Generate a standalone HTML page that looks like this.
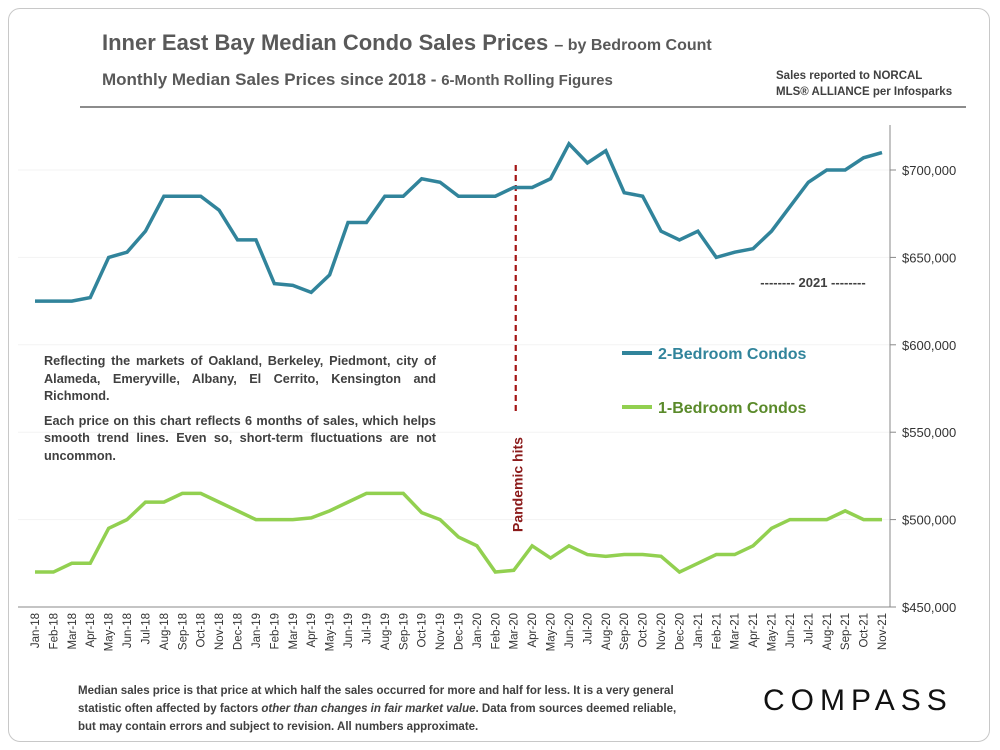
<!DOCTYPE html>
<html><head><meta charset="utf-8"><style>
body{margin:0;width:1000px;height:750px;background:#fff;font-family:"Liberation Sans",sans-serif;overflow:hidden}
.t{position:absolute;color:#595959;font-weight:bold}
</style></head><body>
<div style="position:absolute;left:8px;top:8px;width:980px;height:732px;border:1.5px solid #c8c8c8;border-radius:12px"></div>
<div class="t" style="left:102px;top:30px;font-size:22px">Inner East Bay Median Condo Sales Prices <span style="font-size:16px">– by Bedroom Count</span></div>
<div class="t" style="left:102px;top:70px;font-size:17px">Monthly Median Sales Prices since 2018 - <span style="font-size:15px">6-Month Rolling Figures</span></div>
<div class="t" style="left:776px;top:68px;font-size:11.5px;line-height:16px;color:#404040">Sales reported to NORCAL<br>MLS® ALLIANCE per Infosparks</div>
<div style="position:absolute;left:80px;top:106px;width:886px;height:2px;background:#8c8c8c"></div>
<div class="t" style="left:44px;top:353px;width:392px;font-size:12.7px;line-height:17.5px;color:#404040;text-align:justify">Reflecting the markets of Oakland, Berkeley, Piedmont, city of Alameda, Emeryville, Albany, El Cerrito, Kensington and Richmond.<div style="height:7px"></div>Each price on this chart reflects 6 months of sales, which helps smooth trend lines. Even so, short-term fluctuations are not uncommon.</div>
<div class="t" style="left:78px;top:682px;width:612px;font-size:11.5px;line-height:18px;color:#404040">Median sales price is that price at which half the sales occurred for more and half for less. It is a very general statistic often affected by factors <i>other than changes in fair market value</i>. Data from sources deemed reliable, but may contain errors and subject to revision. All numbers approximate.</div>
<div style="position:absolute;left:763px;top:684px;font-size:30px;letter-spacing:6px;color:#111">COMPASS</div>
<svg id="c" width="1000" height="750" style="position:absolute;left:0;top:0"></svg>
<script>
const months=["Jan-18","Feb-18","Mar-18","Apr-18","May-18","Jun-18","Jul-18","Aug-18","Sep-18","Oct-18","Nov-18","Dec-18","Jan-19","Feb-19","Mar-19","Apr-19","May-19","Jun-19","Jul-19","Aug-19","Sep-19","Oct-19","Nov-19","Dec-19","Jan-20","Feb-20","Mar-20","Apr-20","May-20","Jun-20","Jul-20","Aug-20","Sep-20","Oct-20","Nov-20","Dec-20","Jan-21","Feb-21","Mar-21","Apr-21","May-21","Jun-21","Jul-21","Aug-21","Sep-21","Oct-21","Nov-21"];
const twoBed=[625,625,625,627,650,653,665,685,685,685,677,660,660,635,634,630,640,670,670,685,685,695,693,685,685,685,690,690,695,715,704,711,687,685,665,660,665,650,653,655,665,679,693,700,700,707,710];
const oneBed=[470,470,475,475,495,500,510,510,515,515,510,505,500,500,500,501,505,510,515,515,515,504,500,490,485,470,471,485,478,485,480,479,480,480,479,470,475,480,480,485,495,500,500,500,505,500,500];
const yTicks=[450,500,550,600,650,700];
const pandemicIndex=26;
const svg=document.getElementById('c');const NS="http://www.w3.org/2000/svg";
const x=i=>35+i*(882-35)/(months.length-1);
const y=v=>607-(v-450)*437/250;
function mk(t,a,p){const e=document.createElementNS(NS,t);for(const k in a)e.setAttribute(k,a[k]);(p||svg).appendChild(e);return e;}
yTicks.forEach(v=>{
 if(v>450){const g=mk('line',{x1:18,x2:890,y1:y(v),y2:y(v),stroke:'#f3f3f3','stroke-width':1});
 
 }
 const tk=mk('line',{x1:890,x2:896,y1:y(v),y2:y(v),stroke:'#888'});
 
 
 const t=mk('text',{x:902,y:y(v)+5,'font-size':13,fill:'#333','font-family':'Liberation Sans'});t.textContent='$'+v+',000';
 
 
});
const ax=mk('line',{x1:890,x2:890,y1:125,y2:607,stroke:'#888'});


const bx=mk('line',{x1:18,x2:890,y1:607,y2:607,stroke:'#888'});


months.forEach((m,i)=>{
 const t=mk('text',{transform:`translate(${x(i)+4},613) rotate(-90)`,'text-anchor':'end','font-size':11.5,fill:'#333','font-family':'Liberation Sans'});t.textContent=m;
 
 
});
const pl=mk('line',{x1:x(pandemicIndex)+2,x2:x(pandemicIndex)+2,y1:165,y2:412,stroke:'#a31515','stroke-width':2.2,'stroke-dasharray':'6,4'});


const pt=mk('text',{transform:`translate(${x(pandemicIndex)+9},532) rotate(-90)`,'font-size':14,'font-weight':'bold',fill:'#8b1a1a','font-family':'Liberation Sans'});pt.textContent='Pandemic hits';


function line(d,c,n){const p=mk('polyline',{points:d.map((v,i)=>x(i)+','+y(v)).join(' '),fill:'none',stroke:c,'stroke-width':3.5,'stroke-linejoin':'miter'});
 
 }
line(twoBed,'#31849b','series-2-bedroom');
line(oneBed,'#92d050','series-1-bedroom');
const yr=mk('text',{x:813,y:287,'text-anchor':'middle','font-size':13,'font-weight':'bold',fill:'#404040','font-family':'Liberation Sans'});yr.textContent='-------- 2021 --------';


[[ '#31849b','2-Bedroom Condos',353],['#92d050','1-Bedroom Condos',407]].forEach(([c,l,yy],k)=>{
 const g=mk('g',{});
 
 
 mk('line',{x1:622,x2:652,y1:yy,y2:yy,stroke:c,'stroke-width':4},g);
 const t=mk('text',{x:658,y:yy+6,'font-size':16,'font-weight':'bold',fill:k==0?'#31849b':'#5a8a2a','font-family':'Liberation Sans'},g);t.textContent=l;
});
</script>
</body></html>
